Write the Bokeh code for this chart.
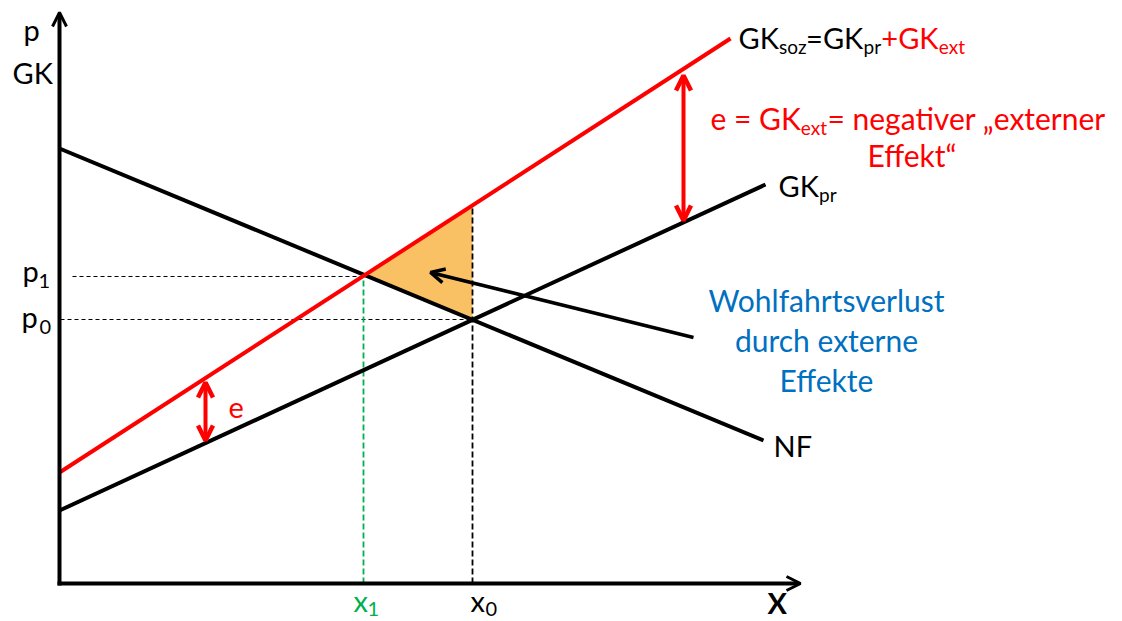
from bokeh.plotting import figure
from bokeh.models import Range1d, Arrow, OpenHead
from bokeh.core.properties import value
from bokeh.embed import file_html
from bokeh.resources import INLINE

# --- model curves (quantity X on x, price / cost on y) ---
nf_x = [0, 704]
nf_y = [435, 143]            # demand curve NF
gkpr_x = [0, 706]
gkpr_y = [73, 399]           # private marginal cost GK_pr
gksoz_x = [0, 671]
gksoz_y = [111, 545]         # social marginal cost GK_soz

# equilibria
x1, p1 = 304, 307            # with external cost internalised
x0, p0 = 413, 264            # market equilibrium
gksoz_at_x0 = 378

# welfare loss triangle
loss_x = [x1, x0, x0]
loss_y = [p1, p0, gksoz_at_x0]

# external-effect arrows (x position, lower end, upper end)
ext_arrows = [(624, 363, 508), (146, 143, 201)]
# pointer from the welfare-loss label into the triangle
pointer = (634, 246, 371, 311)

FONT = "Lato"
RED = "#FF0000"
BLUE = "#0070C0"
GREEN = "#00B050"
ORANGE = "#FAC064"

p = figure(width=1122, height=621, x_range=Range1d(-59, 1063), y_range=Range1d(-38, 583),
           output_backend="svg", toolbar_location=None, min_border=0)
p.axis.visible = False
p.grid.visible = False
p.outline_line_color = None
p.background_fill_color = "white"
p.border_fill_color = "white"

# welfare loss area
p.patch(loss_x, loss_y, fill_color=ORANGE, line_color=None)

# guide lines
p.line([13, x1], [p1, p1], line_color="black", line_width=1, line_dash="4 3")
p.line([1, x0], [p0, p0], line_color="black", line_width=1, line_dash="4 3")
p.line([x1, x1], [0, p1], line_color=GREEN, line_width=1.8, line_dash="6 3")
p.line([x0, x0], [0, gksoz_at_x0], line_color="black", line_width=1.8, line_dash="6 3")

# curves
p.line(nf_x, nf_y, line_color="black", line_width=4)
p.line(gkpr_x, gkpr_y, line_color="black", line_width=4)
p.line(gksoz_x, gksoz_y, line_color=RED, line_width=4)

# axes with arrow heads
p.add_layout(Arrow(x_start=0, y_start=-2, x_end=0, y_end=571, line_width=4, line_color="black",
                   end=OpenHead(size=14, line_width=3, line_color="black")))
p.add_layout(Arrow(x_start=-2, y_start=0, x_end=741, y_end=0, line_width=4, line_color="black",
                   end=OpenHead(size=14, line_width=3, line_color="black")))

# double arrows for the external cost e
for ax, lo, hi in ext_arrows:
    p.add_layout(Arrow(x_start=ax, y_start=lo, x_end=ax, y_end=hi, line_width=4, line_color=RED,
                       start=OpenHead(size=15, line_width=4.5, line_color=RED),
                       end=OpenHead(size=15, line_width=4.5, line_color=RED)))

px0, py0, px1, py1 = pointer
p.add_layout(Arrow(x_start=px0, y_start=py0, x_end=px1, y_end=py1, line_width=3.5, line_color="black",
                   end=OpenHead(size=14, line_width=3.5, line_color="black")))


def put(x, y, s, size=29, color="black", align="left", style="normal"):
    # y is the intended baseline; lift the anchor so glyphs sit on it
    p.text(x=[x], y=[y + 0.35 * size], text=[s], text_font=value(FONT), text_font_size=f"{size}px",
           text_color=color, text_align=align, text_baseline="alphabetic", text_font_style=style)


# approximate advance widths (em) of the Lato glyphs used in the composite labels
ADV = {"G": 0.74, "K": 0.66, "=": 0.58, "+": 0.58, " ": 0.25, "s": 0.41, "o": 0.56,
       "z": 0.45, "p": 0.56, "r": 0.38, "e": 0.53, "x": 0.50, "t": 0.37}


def run(x, y, parts, size=29, sub=19, drop=6):
    """Lay out text pieces left to right; (text, is_subscript, colour)."""
    for s, is_sub, color in parts:
        fs = sub if is_sub else size
        put(x, y - drop if is_sub else y, s, fs, color)
        x += sum(ADV.get(c, 0.55) for c in s) * fs


SUB = 20

# axis labels
put(-36, 544, "p")
put(-47, 501, "GK")
put(-37, 303, "p")
put(-21, 296, "1", SUB)
put(-38, 257, "p")
put(-20, 250, "0", SUB)
put(294, -27, "x", color=GREEN)
put(308, -32, "1", SUB, color=GREEN)
put(411, -27, "x")
put(426, -32, "0", SUB)
put(708, -29, "X", 29, style="bold")

# curve labels
run(679, 536, [("GK", False, "black"), ("soz", True, "black"), ("=GK", False, "black"),
               ("pr", True, "black"), ("+GK", False, RED), ("ext", True, RED)])
run(651, 455, [("e = GK", False, RED), ("ext", True, RED), ("= negativer \u201eexterner", False, RED)],
    size=30)
put(808, 418, "Effekt\u201c", 30, color=RED)

run(719, 388, [("GK", False, "black"), ("pr", True, "black")])

put(714, 128, "NF")
put(169, 166, "e", color=RED)

# welfare loss label
put(767, 273, "Wohlfahrtsverlust", 30, color=BLUE, align="center")
put(767, 233, "durch externe", 30, color=BLUE, align="center")
put(767, 193, "Effekte", 30, color=BLUE, align="center")

open("out.html", "w").write(file_html(p, INLINE))
